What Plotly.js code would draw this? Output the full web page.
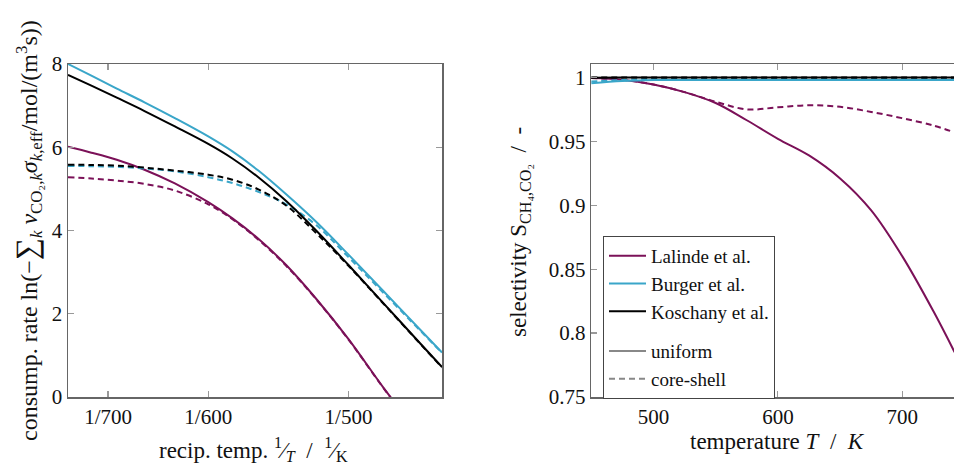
<!DOCTYPE html>
<html>
<head>
<meta charset="utf-8">
<script src="https://cdn.plot.ly/plotly-3.0.1.min.js"></script>
<style>
  html, body { margin: 0; padding: 0; background: #fff; }
  #chart { width: 954px; height: 464px; }
</style>
</head>
<body>
<div id="chart"></div>
<script>
// Left panel: CO2 consumption rate over reciprocal temperature
const tempRecip = [750, 720, 690, 660, 630, 600, 580, 560, 540, 520, 500, 480, 460, 450];
const rateLalindeUniform    = [6.01, 5.87, 5.70, 5.46, 5.13, 4.68, 4.29, 3.80, 3.17, 2.36, 1.39, 0.22, -0.98, -1.67];
const rateLalindeCoreShell  = [5.28, 5.25, 5.20, 5.12, 4.96, 4.63, 4.27, 3.78, 3.15, 2.35, 1.38, 0.21, -0.99, -1.68];
const rateBurgerUniform     = [8.00, 7.72, 7.41, 7.08, 6.70, 6.26, 5.90, 5.44, 4.87, 4.21, 3.42, 2.54, 1.58, 1.07];
const rateBurgerCoreShell   = [5.55, 5.545, 5.53, 5.49, 5.42, 5.28, 5.14, 4.93, 4.63, 4.13, 3.36, 2.50, 1.56, 1.06];
const rateKoschanyUniform   = [7.74, 7.48, 7.19, 6.87, 6.50, 6.08, 5.73, 5.28, 4.71, 4.00, 3.17, 2.25, 1.25, 0.72];
const rateKoschanyCoreShell = [5.58, 5.575, 5.56, 5.51, 5.44, 5.34, 5.22, 4.99, 4.60, 3.94, 3.15, 2.24, 1.24, 0.71];
const recipTickTemps = [700, 600, 500];
const recipTickText = ['1/700', '1/600', '1/500'];

// Right panel: CH4 selectivity over temperature
const tempSel = [450, 475, 500, 525, 550, 575, 600, 625, 650, 675, 700, 725, 742];
const selLalindeUniform    = [0.9995, 0.9982, 0.9945, 0.9885, 0.9800, 0.9665, 0.9520, 0.9390, 0.9210, 0.8960, 0.860, 0.817, 0.785];
const selLalindeCoreShell  = [0.9995, 0.9982, 0.9945, 0.9885, 0.9810, 0.9750, 0.9766, 0.9782, 0.9770, 0.9730, 0.9681, 0.9624, 0.957];
const selBurgerUniform     = [0.9955, 0.9972, 0.998, 0.998, 0.998, 0.998, 0.998, 0.998, 0.998, 0.998, 0.998, 0.998, 0.998];
const selBurgerCoreShell   = [0.9968, 0.998, 0.9988, 0.999, 0.999, 0.999, 0.999, 0.999, 0.999, 0.999, 0.999, 0.999, 0.999];
const selKoschanyUniform   = [0.9998, 0.9999, 1.0, 1.0, 1.0, 1.0, 1.0, 1.0, 1.0, 1.0, 1.0, 1.0, 1.0];
const selKoschanyCoreShell = [0.9999, 1.0, 1.0, 1.0, 1.0, 1.0, 1.0, 1.0, 1.0, 1.0, 1.0, 1.0, 1.0];

const models = ['Lalinde et al.', 'Burger et al.', 'Koschany et al.'];
const colors = ['#7b1158', '#3aa6c9', '#000000'];

const W = 954, H = 464;
const FONT = 'Liberation Serif';
const DASH = '6px,4px';
const recipX = tempRecip.map(t => 1 / t);

function line(x, y, color, dashed, xa, ya) {
  return {
    x: x, y: y, xaxis: xa, yaxis: ya, type: 'scatter', mode: 'lines',
    line: { color: color, width: 2, dash: dashed ? DASH : 'solid', shape: 'spline', smoothing: 1 },
    showlegend: false, hoverinfo: 'skip'
  };
}

const rateSets = [
  [rateLalindeUniform, rateLalindeCoreShell],
  [rateBurgerUniform, rateBurgerCoreShell],
  [rateKoschanyUniform, rateKoschanyCoreShell]
];
const selSets = [
  [selLalindeUniform, selLalindeCoreShell],
  [selBurgerUniform, selBurgerCoreShell],
  [selKoschanyUniform, selKoschanyCoreShell]
];

const traces = [];
rateSets.forEach((s, i) => {
  traces.push(line(recipX, s[0], colors[i], false, 'x', 'y'));
  traces.push(line(recipX, s[1], colors[i], true, 'x', 'y'));
});
selSets.forEach((s, i) => {
  traces.push(line(tempSel, s[0], colors[i], false, 'x2', 'y2'));
  traces.push(line(tempSel, s[1], colors[i], true, 'x2', 'y2'));
});

// legend entries: model colours, then particle type line styles
models.forEach((m, i) => {
  traces.push({ x: [null], y: [null], xaxis: 'x2', yaxis: 'y2', type: 'scatter', mode: 'lines',
    name: m, legendgroup: 'model', line: { color: colors[i], width: 2 }, showlegend: true });
});
traces.push({ x: [null], y: [null], xaxis: 'x2', yaxis: 'y2', type: 'scatter', mode: 'lines',
  name: 'uniform', legendgroup: 'dist', line: { color: '#888', width: 2 }, showlegend: true });
traces.push({ x: [null], y: [null], xaxis: 'x2', yaxis: 'y2', type: 'scatter', mode: 'lines',
  name: 'core-shell', legendgroup: 'dist', line: { color: '#888', width: 2, dash: DASH }, showlegend: true });

const yDom = [1 - 397 / H, 1 - 64 / H];
const axisCommon = {
  showgrid: false, zeroline: false, showline: true, linecolor: '#666', linewidth: 1.5,
  ticks: 'inside', ticklen: 6, tickcolor: '#999', tickwidth: 1.2,
  tickfont: { family: FONT, size: 21, color: '#111' }, fixedrange: true
};
const titleFont = { family: FONT, size: 23, color: '#111' };

const layout = {
  width: W, height: H,
  margin: { l: 0, r: 0, t: 0, b: 0 },
  paper_bgcolor: '#fff', plot_bgcolor: '#fff',
  font: { family: FONT, size: 21, color: '#111' },
  xaxis: Object.assign({}, axisCommon, {
    domain: [68 / W, 442 / W], range: [1 / 750, 1 / 450], mirror: 'ticks',
    tickvals: recipTickTemps.map(t => 1 / t), ticktext: recipTickText, anchor: 'y'
  }),
  yaxis: Object.assign({}, axisCommon, {
    domain: yDom, range: [0, 8], mirror: 'ticks', tickvals: [0, 2, 4, 6, 8], anchor: 'x'
  }),
  xaxis2: Object.assign({}, axisCommon, {
    domain: [591.2 / W, 1], range: [450, 741.5], mirror: 'ticks',
    tickvals: [500, 600, 700], anchor: 'y2'
  }),
  yaxis2: Object.assign({}, axisCommon, {
    domain: yDom, range: [0.75, 1.0105], mirror: false,
    tickvals: [0.75, 0.8, 0.85, 0.9, 0.95, 1], ticktext: ['0.75', '0.8', '0.85', '0.9', '0.95', '1'], anchor: 'x2'
  }),
  showlegend: true,
  legend: {
    x: 603 / W, y: 1 - 236 / H, xanchor: 'left', yanchor: 'top',
    bgcolor: '#fff', bordercolor: '#444', borderwidth: 1,
    font: { family: FONT, size: 19, color: '#111' },
    traceorder: 'grouped', tracegroupgap: 12, itemwidth: 37
  },
  annotations: [
    { xref: 'paper', yref: 'paper', x: 28 / W, y: 1 - 231 / H, xanchor: 'center', yanchor: 'middle',
      textangle: -90, showarrow: false, font: { family: FONT, size: 24, color: '#111' },
      text: 'consump. rate ln(\u2212<span style="font-size:31px">\u2211</span><sub><i>k</i></sub> <i>\u03bd</i><sub>CO\u2082,<i>k</i></sub><i>\u03c3</i><sub><i>k</i>,eff</sub>/mol/(m<sup>3</sup>s))' },
    { xref: 'paper', yref: 'paper', x: 520 / W, y: 1 - 232 / H, xanchor: 'center', yanchor: 'middle',
      textangle: -90, showarrow: false, font: titleFont,
      text: 'selectivity S<sub>CH\u2084,CO\u2082</sub>  /  -' },
    { xref: 'paper', yref: 'paper', x: 253 / W, y: 1 - 449 / H, xanchor: 'center', yanchor: 'middle',
      showarrow: false, font: titleFont,
      text: 'recip. temp. <sup>1</sup>\u2044<sub><i>T</i></sub>  /  <sup>1</sup>\u2044<sub>K</sub>' },
    { xref: 'paper', yref: 'paper', x: 777 / W, y: 1 - 441 / H, xanchor: 'center', yanchor: 'middle',
      showarrow: false, font: titleFont,
      text: 'temperature <i>T</i>  /  <i>K</i>' }
  ]
};

Plotly.newPlot('chart', traces, layout, { displayModeBar: false, staticPlot: true });
</script>
</body>
</html>
